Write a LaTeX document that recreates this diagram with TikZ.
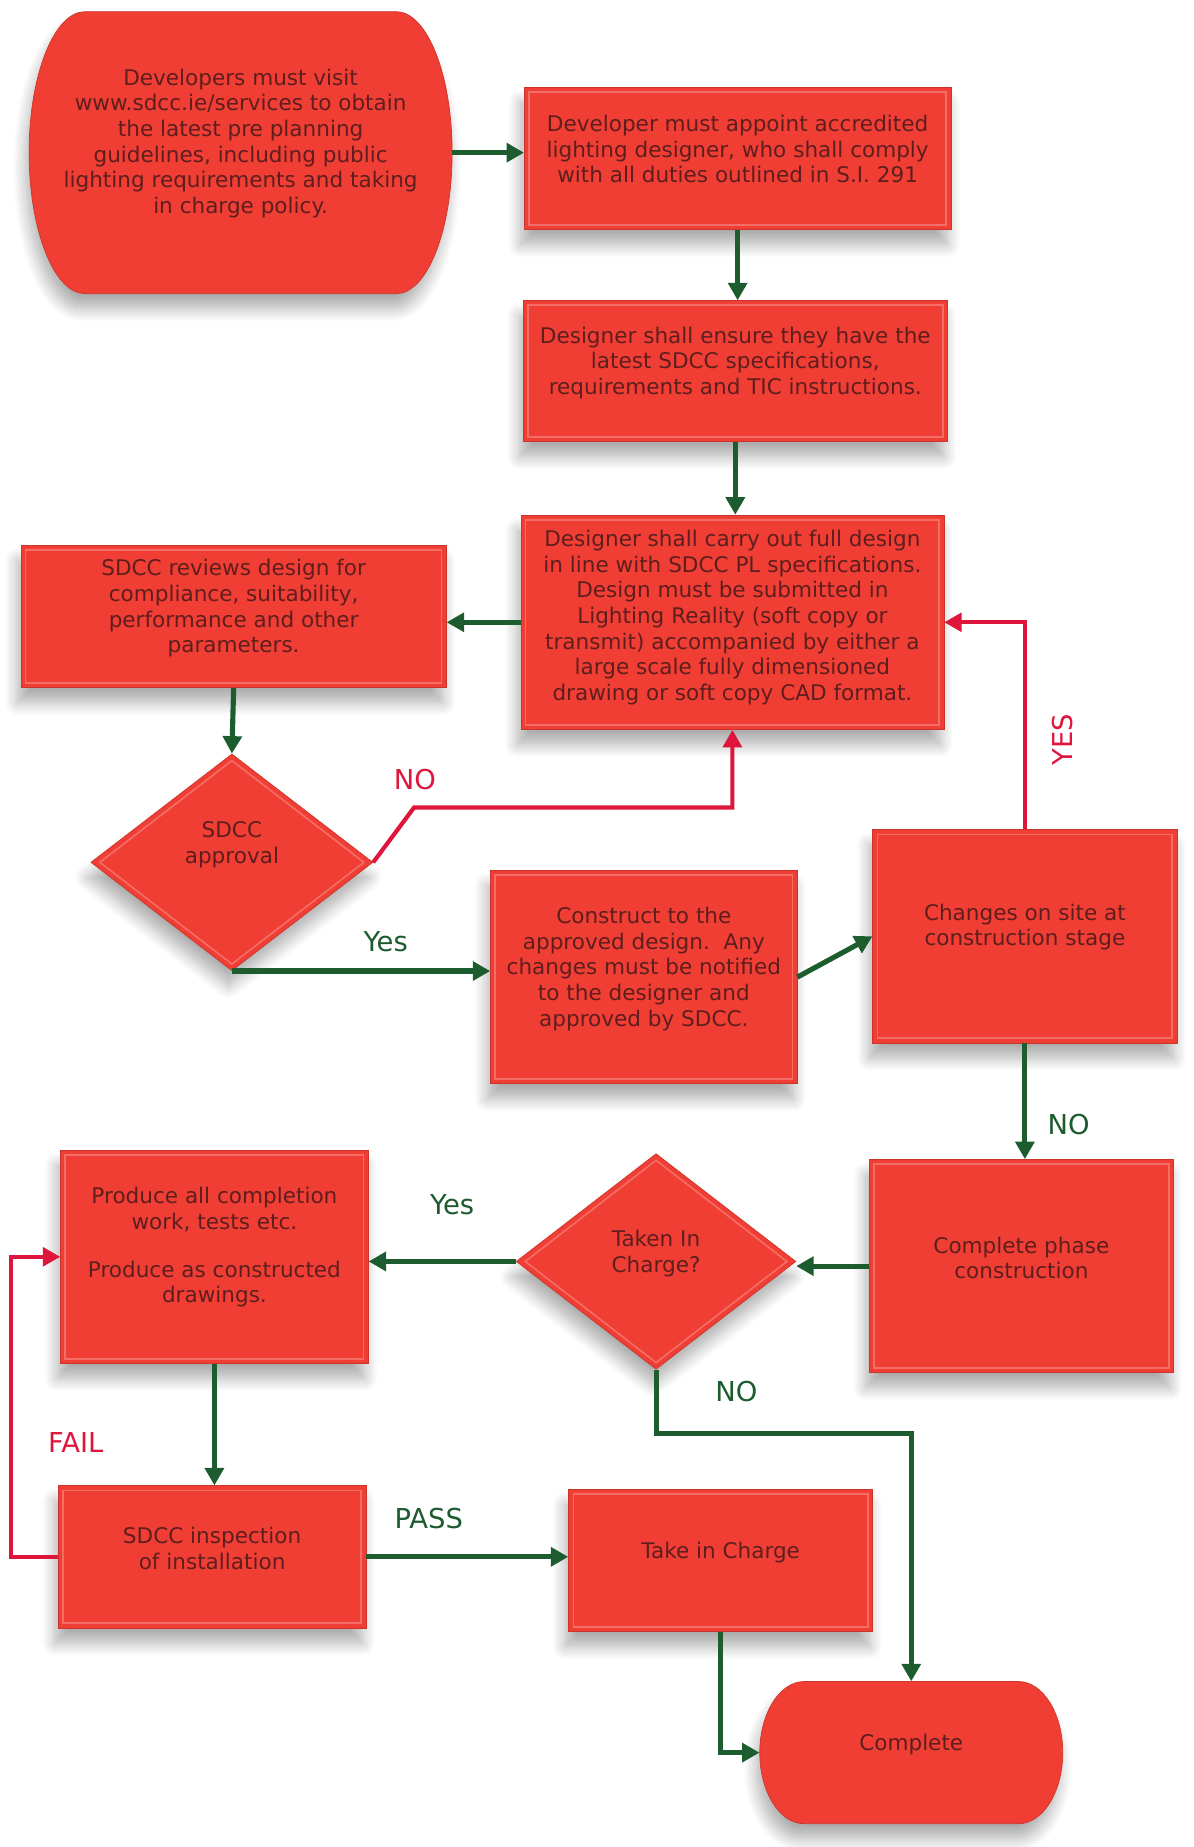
\documentclass[tikz,border=0pt]{standalone}
\usepackage{fontspec}
\setmainfont{DejaVu Sans}
\usetikzlibrary{arrows.meta,shapes.geometric,shadows.blur,calc}
\definecolor{boxred}{RGB}{240,62,52}
\definecolor{txtdark}{RGB}{95,30,30}
\definecolor{arrgreen}{RGB}{28,92,46}
\definecolor{arrred}{RGB}{222,22,60}
% stadium outline: x0, y0, x1, y1, bulge
\newcommand\mystadium[5]{%
  \path[stadfill] ({#1+#5},#2) -- ({#3-#5},#2)
    .. controls ({#3-0.448*#5},#2) and (#3,{(#2+#4)/2-0.276*(#4-#2)}) .. (#3,{(#2+#4)/2})
    .. controls (#3,{(#2+#4)/2+0.276*(#4-#2)}) and ({#3-0.448*#5},#4) .. ({#3-#5},#4)
    -- ({#1+#5},#4)
    .. controls ({#1+0.448*#5},#4) and (#1,{(#2+#4)/2+0.276*(#4-#2)}) .. (#1,{(#2+#4)/2})
    .. controls (#1,{(#2+#4)/2-0.276*(#4-#2)}) and ({#1+0.448*#5},#2) .. ({#1+#5},#2) -- cycle;}
\begin{document}
\begin{tikzpicture}[x=1pt,y=-1pt,
  shad/.style={blur shadow={shadow xshift=-3pt,shadow yshift=-13pt,shadow blur radius=11pt,shadow blur steps=12,shadow opacity=32}},
  box/.style={rectangle,fill=boxred,draw=boxred!85!black,line width=0.6pt,inner sep=0pt,shad,
    path picture={\draw[white,opacity=0.25,line width=1.4pt]
      ([shift={(4pt,-4pt)}]path picture bounding box.north west) rectangle
      ([shift={(-4pt,4pt)}]path picture bounding box.south east);}},
  stadfill/.style={fill=boxred,draw=boxred!85!black,line width=0.6pt,shad},
  anchorbox/.style={rectangle,inner sep=0pt},
  dia/.style={diamond,fill=boxred,draw=boxred!85!black,line width=0.6pt,inner sep=0pt,shad},
  bevel/.style={draw=white,opacity=0.25,line width=1.4pt},
  txt/.style={align=center,text=txtdark,font=\fontsize{18.5}{22}\selectfont,inner sep=0pt},
  garrow/.style={draw=arrgreen,line width=4.4pt,-{Triangle[length=15pt,width=16pt]}},
  rarrow/.style={draw=arrred,line width=3.6pt,-{Triangle[length=15pt,width=16pt]}},
  glab/.style={text=arrgreen,font=\fontsize{23.5}{26}\selectfont,inner sep=0pt},
  rlab/.style={text=arrred,font=\fontsize{23.5}{26}\selectfont,inner sep=0pt}]
\useasboundingbox (0,0) rectangle (1024,1585);

% nodes
\mystadium{25}{10}{388}{252}{48}
\node[anchorbox,minimum width=363pt,minimum height=242pt] (start) at (206.5,131) {};
\node[txt] at ([yshift=8pt]start.center) {Developers must visit\\www.sdcc.ie/services to obtain\\the latest pre planning\\guidelines, including public\\lighting requirements and taking\\in charge policy.};

\node[box,minimum width=366pt,minimum height=122pt] (A) at (633,136) {};
\node[txt] at ([yshift=8pt]A.center) {Developer must appoint accredited\\lighting designer, who shall comply\\with all duties outlined in S.I. 291};

\node[box,minimum width=364pt,minimum height=121pt] (B) at (631,318.5) {};
\node[txt] at ([yshift=7pt]B.center) {Designer shall ensure they have the\\latest SDCC specifications,\\requirements and TIC instructions.};

\node[box,minimum width=363pt,minimum height=184pt] (C) at (628.5,534) {};
\node[txt] at ([yshift=4pt]C.center) {Designer shall carry out full design\\in line with SDCC PL specifications.\\Design must be submitted in\\Lighting Reality (soft copy or\\transmit) accompanied by either a\\large scale fully dimensioned\\drawing or soft copy CAD format.};

\node[box,minimum width=365pt,minimum height=122pt] (D) at (200.5,529) {};
\node[txt] at ([yshift=7pt]D.center) {SDCC reviews design for\\compliance, suitability,\\performance and other\\parameters.};

\node[dia,minimum width=242pt,minimum height=186pt] (E) at (199,740) {};
\draw[bevel] ([yshift=-6pt]E.north) -- ([xshift=-8pt]E.east) -- ([yshift=6pt]E.south) -- ([xshift=8pt]E.west) -- cycle;
\node[txt] at ([yshift=15pt]E.center) {SDCC\\approval};

\node[box,minimum width=263pt,minimum height=183pt] (F) at (552.5,838.5) {};
\node[txt] at ([yshift=7pt]F.center) {Construct to the\\approved design.\ \ Any\\changes must be notified\\to the designer and\\approved by SDCC.};

\node[box,minimum width=261pt,minimum height=183pt] (G) at (879.5,803.5) {};
\node[txt] at ([yshift=8pt]G.center) {Changes on site at\\construction stage};

\node[box,minimum width=261pt,minimum height=183pt] (H) at (876.5,1086.5) {};
\node[txt] at ([yshift=7pt]H.center) {Complete phase\\construction};

\node[dia,minimum width=240pt,minimum height=185pt] (I) at (563,1082.5) {};
\draw[bevel] ([yshift=-6pt]I.north) -- ([xshift=-8pt]I.east) -- ([yshift=6pt]I.south) -- ([xshift=8pt]I.west) -- cycle;
\node[txt] at ([yshift=7pt]I.center) {Taken In\\Charge?};

\node[box,minimum width=264pt,minimum height=183pt] (J) at (184,1078.5) {};
\node[txt] at ([yshift=8pt]J.center) {Produce all completion\\work, tests etc.\\[19pt]Produce as constructed\\drawings.};

\node[box,minimum width=264pt,minimum height=122pt] (K) at (182,1336) {};
\node[txt] at ([yshift=7pt]K.center) {SDCC inspection\\of installation};

\node[box,minimum width=261pt,minimum height=122pt] (L) at (618.5,1339) {};
\node[txt] at ([yshift=7pt]L.center) {Take in Charge};

\mystadium{652}{1443}{912}{1565}{38}
\node[anchorbox,minimum width=260pt,minimum height=122pt] (M) at (782,1504) {};
\node[txt] at ([yshift=7pt]M.center) {Complete};

% connectors
\draw[garrow] (start.east) -- (start.east -| A.west);
\draw[garrow] (A.south) -- (A.south |- B.north);
\draw[garrow] (B.south) -- (B.south |- C.north);
\draw[garrow] (C.west) -- (C.west -| D.east);
\draw[garrow] (D.south) -- (E.north);
\draw[garrow] (E.south) -- (E.south -| F.west);
\draw[rarrow] (E.east) -- ++(35,-47) -| (C.south);
\draw[garrow] (F.east) -- (G.west);
\draw[rarrow] (G.north) |- (C.east);
\draw[garrow] (G.south) -- (G.south |- H.north);
\draw[garrow] (H.west) -- (H.west -| I.east);
\draw[garrow] (I.west) -- (I.west -| J.east);
\draw[garrow] (I.south) -- ++(0,55) -| (M.north);
\draw[garrow] (J.south) -- (J.south |- K.north);
\draw[rarrow] (K.west) -- ++(-40,0) |- (J.west);
\draw[garrow] (K.east) -- (K.east -| L.west);
\draw[garrow] (L.south) |- (M.west);

% labels
\node[glab] (l1) at (331,808) {Yes};
\node[rlab] (l2) at (356,669) {NO};
\node[rlab,rotate=90] (l3) at (912,635) {YES};
\node[glab] (l4) at (917,965) {NO};
\node[glab] (l5) at (388,1034) {Yes};
\node[glab] (l6) at (632,1194) {NO};
\node[rlab] (l7) at (65,1238) {FAIL};
\node[glab] (l8) at (368,1303) {PASS};
\end{tikzpicture}
\end{document}
